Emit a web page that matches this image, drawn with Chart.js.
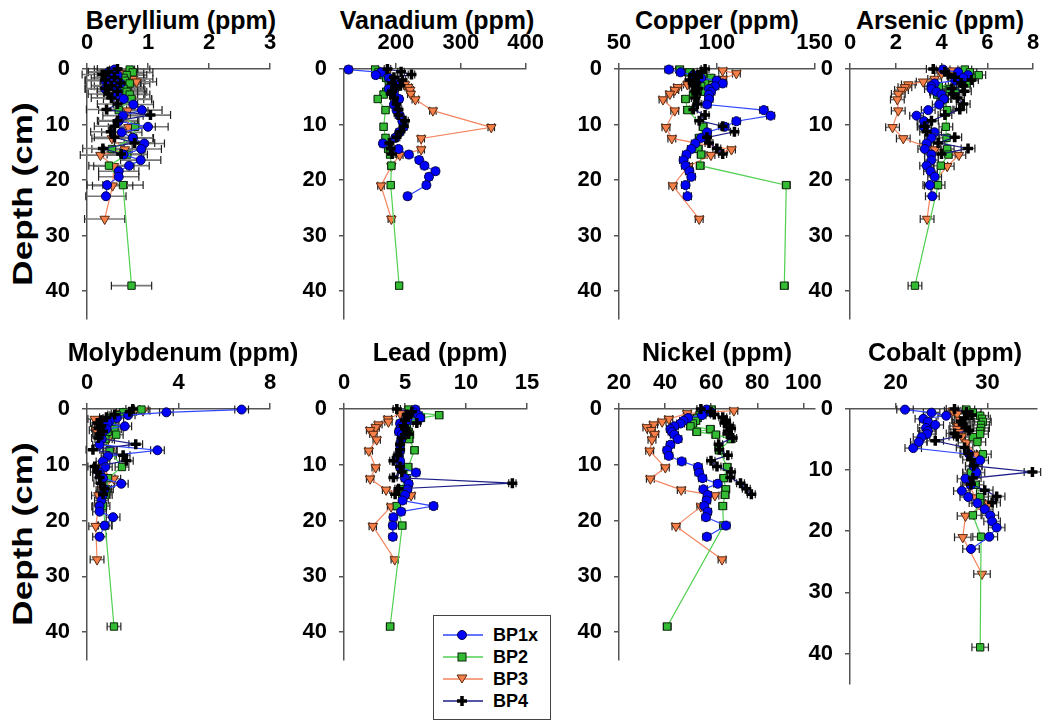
<!DOCTYPE html>
<html>
<head>
<meta charset="utf-8">
<script src="https://cdn.jsdelivr.net/npm/chart.js@4.4.1/dist/chart.umd.min.js"></script>
<style>
  body { margin: 0; background: #fff; width: 1042px; height: 720px; position: relative; overflow: hidden;
         font-family: "Liberation Sans", Arial, sans-serif; }
  canvas { position: absolute; }
  .depth { position: absolute; font-weight: bold; font-size: 27px; white-space: nowrap;
           transform: translate(-50%, -50%) rotate(-90deg) scaleX(1.3); }
  .ttl { position: absolute; font-weight: bold; font-size: 25px; white-space: nowrap;
         transform: translate(-50%, -50%); }
  #legend { position: absolute; left: 433px; top: 615px; width: 116px; height: 103px;
            border: 1px solid #444; background: #fff; z-index: 5; }
  #legend .row { position: absolute; left: 8px; height: 20px; display: flex; align-items: center;
                 font-weight: bold; font-size: 18px; }
  #legend svg { margin-right: 9px; }
</style>
</head>
<body>
<div class="depth" style="left:23px;top:194px">Depth (cm)</div>
<div class="depth" style="left:23px;top:534px">Depth (cm)</div>
<div id="legend"></div>

<script>
// depth of each sample (cm), one list per core
const depthBP1x = [0.1, 0.6, 1.1, 1.6, 2.1, 2.6, 3.1, 3.6, 4.1, 4.6, 5.4, 6.4, 7.4, 8.4, 9.4, 10.4, 11.4, 12.4, 13.4, 14.4, 15.4, 16.4, 17.4, 18.4, 19.4, 20.9, 22.9];
const depthBP2  = [0.1, 0.6, 1.1, 1.6, 2.1, 2.6, 3.1, 3.6, 4.1, 4.6, 5.4, 7.4, 10.4, 12.4, 14.4, 15.4, 17.4, 20.9, 39.0];
const depthBP3  = [0.3, 0.8, 1.8, 2.3, 2.8, 3.3, 3.8, 4.5, 5.5, 7.5, 10.5, 12.5, 14.5, 15.5, 17.5, 21.0, 27.0];
const depthBP4  = [0.0, 0.5, 1.0, 1.5, 2.0, 2.5, 3.0, 3.5, 4.0, 4.5, 5.2, 6.3, 7.3, 8.3, 9.3, 10.3, 11.3, 12.3, 13.3, 14.3, 15.3];

// Beryllium
const beBP1x = [0.45, 0.35, 0.5, 0.4, 0.3, 0.55, 0.45, 0.3, 0.5, 0.5, 0.6, 0.76, 0.9, 0.59, 0.52, 1.0, 0.57, 0.75, 0.94, 0.89, 0.6, 0.88, 0.69, 0.52, 0.52, 0.33, 0.31];
const beBP2  = [0.7, 0.75, 0.65, 0.6, 0.62, 0.7, 0.55, 0.6, 0.65, 0.7, 0.73, 0.52, 0.79, 0.76, 0.41, 0.66, 0.36, 0.59, 0.73];
const beBP3  = [0.5, 0.6, 0.75, 0.81, 0.55, 0.6, 0.62, 0.62, 0.73, 0.67, 0.68, 0.41, 0.62, 0.22, 0.44, 0.42, 0.29];
const beBP4  = [0.5, 0.35, 0.25, 0.45, 0.3, 0.55, 0.4, 0.3, 0.5, 0.35, 0.4, 0.5, 0.32, 1.04, 0.5, 0.45, 0.39, 0.45, 0.78, 0.26, 0.56];
// Vanadium
const vBP1x = [127, 177, 169, 189, 193, 197, 201, 189, 193, 197, 205, 197, 201, 206, 210, 212, 205, 199, 180, 204, 220, 236, 244, 261, 251, 247, 218];
const vBP2  = [168, 173, 181, 185, 189, 193, 197, 189, 185, 181, 172, 184, 181, 184, 188, 191, 193, 192, 205];
const vBP3  = [170, 185, 193, 210, 214, 219, 222, 223, 230, 257, 347, 239, 239, 206, 193, 177, 193];
const vBP4  = [187, 208, 224, 197, 210, 194, 207, 199, 194, 192, 197, 201, 204, 204, 214, 212, 207, 201, 190, 192, 194];
// Copper
const cuBP1x = [75.5, 81.5, 88, 92, 100, 103, 99, 96, 97, 96, 96, 95, 124, 127.5, 110, 104, 95, 92, 89, 87, 84.5, 83, 84, 86, 87, 84, 85];
const cuBP2  = [81, 86, 93, 97, 100, 94, 92, 90, 94, 88, 84, 85, 93, 91, 90.5, 92, 91.5, 135.5, 134.5];
const cuBP3  = [103, 110, 103, 92, 85, 80, 78.5, 76, 72.5, 78.5, 74, 77, 107.5, 97, 85.5, 77.5, 91];
const cuBP4  = [94, 92, 88, 90.5, 86, 89.5, 88, 90.5, 89, 89.5, 89, 90, 88, 94, 91, 103, 109, 95, 96, 100, 103];
// Arsenic
const asBP1x = [4.07, 4.73, 5.16, 4.95, 4.6, 3.7, 3.56, 3.56, 3.78, 4.0, 4.1, 3.9, 3.42, 2.91, 3.24, 3.24, 3.7, 3.56, 3.35, 3.27, 3.56, 3.56, 3.35, 3.52, 3.7, 3.49, 3.6];
const asBP2  = [5.02, 5.24, 5.63, 5.31, 4.95, 5.1, 3.88, 4.36, 4.6, 3.81, 4.15, 4.25, 4.19, 4.22, 4.25, 4.3, 3.97, 3.85, 2.84];
const asBP3  = [4.5, 4.0, 3.7, 3.2, 2.55, 2.4, 2.25, 2.11, 2.07, 2.11, 1.86, 2.33, 3.71, 4.76, 4.25, 3.56, 3.37];
const asBP4  = [3.64, 4.15, 4.29, 4.58, 5.31, 4.87, 4.95, 4.44, 5.0, 4.5, 4.7, 4.95, 4.8, 4.15, 3.56, 3.27, 3.35, 4.58, 3.85, 5.16, 4.0];
// Molybdenum
const moBP1x = [6.76, 3.47, 1.8, 1.3, 1.0, 0.9, 1.65, 0.85, 0.7, 0.6, 0.65, 0.55, 3.08, 0.92, 0.7, 0.8, 0.55, 0.7, 1.5, 0.77, 0.7, 0.63, 0.55, 0.55, 1.14, 0.77, 0.55];
const moBP2  = [2.38, 1.58, 1.3, 1.0, 0.9, 1.1, 0.8, 1.2, 0.9, 1.28, 0.8, 0.99, 1.53, 0.92, 0.85, 0.8, 0.7, 0.8, 1.18];
const moBP3  = [2.45, 1.36, 0.34, 0.77, 0.8, 0.55, 0.4, 0.7, 0.9, 1.02, 0.55, 1.17, 0.7, 0.5, 0.51, 0.38, 0.44];
const moBP4  = [2.0, 1.87, 1.21, 0.85, 0.6, 0.45, 0.63, 0.5, 0.7, 0.55, 0.5, 2.13, 0.26, 1.58, 1.72, 0.34, 0.45, 0.55, 0.6, 0.77, 0.7];
// Lead
const pbBP1x = [5.84, 5.7, 6.1, 6.25, 5.15, 4.6, 4.74, 4.6, 4.5, 4.74, 4.7, 4.6, 4.6, 4.5, 4.6, 4.6, 5.9, 5.0, 5.3, 5.2, 5.0, 4.8, 7.34, 4.68, 4.05, 4.0, 4.0];
const pbBP2  = [5.3, 5.8, 7.8, 6.3, 5.8, 4.74, 5.15, 5.0, 5.3, 5.4, 5.34, 5.78, 5.26, 5.15, 4.6, 4.8, 4.33, 4.77, 3.78];
const pbBP3  = [5.6, 4.6, 3.6, 3.64, 2.82, 2.6, 2.14, 2.41, 2.68, 2.03, 2.6, 2.14, 3.45, 5.5, 3.86, 2.36, 4.16];
const pbBP4  = [4.33, 5.56, 5.15, 5.2, 5.0, 5.97, 4.9, 5.0, 5.15, 5.3, 4.74, 4.6, 4.6, 4.4, 4.05, 4.6, 4.74, 4.05, 13.8, 4.47, 4.19];
// Nickel
const niBP1x = [58, 60, 56, 50, 48, 46.7, 44, 42.3, 43, 44, 45.5, 42.3, 40.9, 41.6, 47.2, 54.3, 54.7, 56.2, 62.8, 56.6, 58.4, 58, 57, 58.4, 57.7, 66.4, 58.1];
const niBP2  = [60.1, 57, 55, 54, 53.3, 52, 51, 59.6, 53.7, 62, 68.6, 63.5, 66.9, 65.4, 66.3, 66, 65, 65.3, 40.9];
const niBP3  = [69.8, 49.6, 41.6, 38.7, 35, 32.1, 34, 35.5, 34.3, 33.3, 40.1, 33.6, 47, 61.6, 55.5, 44.7, 64.7];
const niBP4  = [55.5, 59.9, 61.3, 65, 66.4, 65.7, 67.9, 68.6, 67.2, 67, 69.3, 63.2, 63.5, 67.2, 59.9, 62.5, 68.6, 68.3, 72.7, 75.2, 77.4];
// Cobalt
const coBP1x = [21.0, 23.9, 25.5, 23.0, 23.5, 24.3, 23.3, 23.5, 23.4, 22.8, 22.5, 21.9, 28.0, 29.2, 28.5, 28.8, 27.6, 28.2, 27.2, 27.9, 28.9, 29.7, 30.3, 30.5, 31.0, 30.2, 28.2];
const coBP2  = [27.7, 28.4, 29.2, 29.4, 29.5, 29.3, 29.3, 29.2, 29.2, 28.4, 28.9, 29.5, 28.2, 28.7, 29.2, 29.2, 28.4, 29.3, 29.2];
const coBP3  = [26.2, 26.7, 27.0, 27.2, 26.8, 26.7, 26.9, 27.2, 27.7, 28.7, 28.2, 28.0, 28.7, 30.1, 27.6, 27.3, 29.4];
const coBP4  = [26.4, 27.7, 28.3, 27.5, 27.1, 27.3, 27.6, 28.0, 26.4, 26.7, 24.3, 27.5, 27.9, 28.2, 28.5, 34.9, 28.4, 28.2, 29.7, 31.0, 30.5];

const seriesNames = ['BP1x', 'BP2', 'BP3', 'BP4'];
const panelTitles = ['Beryllium (ppm)', 'Vanadium (ppm)', 'Copper (ppm)', 'Arsenic (ppm)',
                     'Molybdenum (ppm)', 'Lead (ppm)', 'Nickel (ppm)', 'Cobalt (ppm)'];
const xTicks = [[0, 1, 2, 3], [200, 300, 400], [50, 100, 150], [0, 2, 4, 6, 8],
                [0, 4, 8], [0, 5, 10, 15], [20, 40, 60, 80, 100], [20, 30]];
const xMin = [0, 120, 50, 0, 0, 0, 20, 15];
const xMax = [3, 400, 150, 8, 8, 15, 105, 35.4];
const errHalf = [0.33, 5, 2, 0.3, 0.3, 0.3, 1.7, 0.9];   // analytical uncertainty (±)
const depthTicks = [0, 10, 20, 30, 40];

const depths = [depthBP1x, depthBP2, depthBP3, depthBP4];
const panelValues = [
  [beBP1x, beBP2, beBP3, beBP4], [vBP1x, vBP2, vBP3, vBP4],
  [cuBP1x, cuBP2, cuBP3, cuBP4], [asBP1x, asBP2, asBP3, asBP4],
  [moBP1x, moBP2, moBP3, moBP4], [pbBP1x, pbBP2, pbBP3, pbBP4],
  [niBP1x, niBP2, niBP3, niBP4], [coBP1x, coBP2, coBP3, coBP4]
];

// look of each core
const seriesStyle = [
  { line: '#3046ff', fill: '#0000ff', edge: '#000050', shape: 'circle',   r: 4.5, rot: 0,   bw: 1,   order: 1 },
  { line: '#4fd04f', fill: '#33bb33', edge: '#0a260a', shape: 'rect',     r: 5.2, rot: 0,   bw: 1,   order: 2 },
  { line: '#f4845f', fill: '#f7804a', edge: '#5a2a10', shape: 'triangle', r: 5.5, rot: 180, bw: 1,   order: 3 },
  { line: '#1c1c86', fill: '#000000', edge: '#000000', shape: 'cross',    r: 5,   rot: 0,   bw: 3.5, order: 0 }
];

// plot-area placement for each panel (page pixels), title centre
const boxes = [
  { l: 87,  r: 270,  t: 69,  b: 319,   top: 0,   tx: 181, ty: 20 },
  { l: 344, r: 526,  t: 69,  b: 319,   top: 0,   tx: 437, ty: 20 },
  { l: 619, r: 815,  t: 69,  b: 319,   top: 0,   tx: 717, ty: 20 },
  { l: 850, r: 1033, t: 69,  b: 319,   top: 0,   tx: 940, ty: 20 },
  { l: 87,  r: 270,  t: 409, b: 660,   top: 330, tx: 183, ty: 352 },
  { l: 344, r: 527,  t: 409, b: 660,   top: 330, tx: 440, ty: 352 },
  { l: 619, r: 815,  t: 409, b: 660,   top: 330, tx: 717, ty: 352 },
  { l: 850, r: 1037, t: 409, b: 683.5, top: 330, tx: 945, ty: 352 }
];

Chart.defaults.font.family = '"Liberation Sans", Arial, sans-serif';
Chart.defaults.color = '#000';

const errorBars = {
  id: 'errorBars',
  beforeDatasetsDraw(chart) {
    const { ctx, scales: { x, y } } = chart;
    const e = chart.options.plugins.errorBars.half;
    ctx.save();
    chart.data.datasets.forEach(ds => {
      ds.data.forEach(p => {
        const py = y.getPixelForValue(p.y);
        const x1 = x.getPixelForValue(p.x - e);
        const x2 = x.getPixelForValue(p.x + e);
        ctx.strokeStyle = '#777';
        ctx.lineWidth = 1.6;
        ctx.beginPath();
        ctx.moveTo(x1, py); ctx.lineTo(x2, py);
        ctx.stroke();
        ctx.strokeStyle = '#222';
        ctx.lineWidth = 1.2;
        ctx.beginPath();
        ctx.moveTo(x1, py - 4); ctx.lineTo(x1, py + 4);
        ctx.moveTo(x2, py - 4); ctx.lineTo(x2, py + 4);
        ctx.stroke();
      });
    });
    ctx.restore();
  }
};

const Y_W = 60, PAD_R = 25, PAD_B = 30;

boxes.forEach((bx, i) => {
  const title = document.createElement('div');
  title.className = 'ttl';
  title.style.left = bx.tx + 'px';
  title.style.top = bx.ty + 'px';
  title.textContent = panelTitles[i];
  document.body.appendChild(title);

  const cv = document.createElement('canvas');
  const w = Y_W + (bx.r - bx.l) + PAD_R;
  const h = bx.b + PAD_B - bx.top;
  cv.width = Math.round(w);
  cv.height = Math.round(h);
  cv.style.left = (bx.l - Y_W) + 'px';
  cv.style.top = bx.top + 'px';
  document.body.appendChild(cv);

  const datasets = seriesNames.map((name, s) => {
    const st = seriesStyle[s];
    return {
      label: name,
      data: panelValues[i][s].map((v, k) => ({ x: v, y: depths[s][k] })),
      showLine: true,
      borderColor: st.line,
      borderWidth: 1.2,
      backgroundColor: st.fill,
      pointStyle: st.shape,
      pointRadius: st.r,
      pointRotation: st.rot,
      pointBackgroundColor: st.fill,
      pointBorderColor: st.edge,
      pointBorderWidth: st.bw,
      order: st.order,
      clip: false
    };
  });

  const tickFont = { size: 22, weight: 'bold' };
  new Chart(cv.getContext('2d'), {
    type: 'scatter',
    data: { datasets },
    options: {
      responsive: false,
      animation: false,
      layout: { padding: { left: 0, top: 0, right: PAD_R, bottom: PAD_B } },
      plugins: { legend: { display: false }, tooltip: { enabled: false }, errorBars: { half: errHalf[i] } },
      scales: {
        x: {
          type: 'linear', position: 'top', min: xMin[i], max: xMax[i],
          afterBuildTicks: sc => { sc.ticks = xTicks[i].map(v => ({ value: v })); },
          afterFit: sc => { sc.height = bx.t - bx.top; },
          ticks: { font: tickFont, color: '#000', padding: 7, autoSkip: false, maxRotation: 0 },
          grid: { drawOnChartArea: false, drawTicks: true, tickLength: 6, color: '#555', lineWidth: 1.5 },
          border: { display: true, color: '#555', width: 1.5 }
        },
        y: {
          type: 'linear', reverse: true, min: 0, max: 45,
          afterBuildTicks: sc => { sc.ticks = depthTicks.map(v => ({ value: v })); },
          afterFit: sc => { sc.width = Y_W; },
          ticks: { font: tickFont, color: '#000', padding: 12, autoSkip: false },
          grid: { drawOnChartArea: false, drawTicks: true, tickLength: 5, color: '#555', lineWidth: 1.5 },
          border: { display: true, color: '#555', width: 1.5 }
        }
      }
    },
    plugins: [errorBars]
  });
});

// legend
const legendMarks = [
  '<circle cx="20" cy="7" r="4.5" fill="#0000ff" stroke="#000050"/>',
  '<rect x="16" y="3" width="8" height="8" fill="#33bb33" stroke="#0a260a"/>',
  '<polygon points="15,3 25,3 20,11" fill="#f7804a" stroke="#5a2a10"/>',
  '<path d="M15 7H25M20 2V12" stroke="#000" stroke-width="3.5"/>'
];
const legend = document.getElementById('legend');
seriesNames.forEach((name, s) => {
  const row = document.createElement('div');
  row.className = 'row';
  row.style.top = (9 + s * 22) + 'px';
  row.innerHTML = '<svg width="42" height="14"><line x1="1" y1="7" x2="41" y2="7" stroke="' +
    seriesStyle[s].line + '" stroke-width="1.5"/>' + legendMarks[s] + '</svg>' + name;
  legend.appendChild(row);
});
</script>
</body>
</html>
